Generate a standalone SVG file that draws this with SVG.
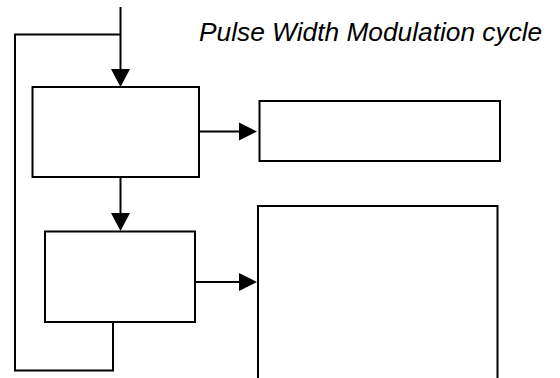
<svg xmlns="http://www.w3.org/2000/svg" width="560" height="378" viewBox="0 0 560 378">
<style>
.box{fill:#fff;stroke:#000;stroke-width:2}
.ln{fill:none;stroke:#000;stroke-width:2}
.ah{fill:#000;stroke:none}
.t{font-family:"Liberation Sans",Arial,sans-serif;font-style:italic;font-size:26.3px;fill:#000}
</style>
<rect width="560" height="378" fill="#fff"/>
<text class="t" x="199" y="41">Pulse Width Modulation cycle</text>
<g id="connectors">
<path class="ln" d="M120.5,7 V72"/>
<path class="ln" d="M120.5,34.5 H15 V370.5 H113 V322"/>
<polygon class="ah" points="111,69 130,69 120.5,87"/>
<path class="ln" d="M120.5,177 V215"/>
<polygon class="ah" points="111,213 130,213 120.5,231"/>
<path class="ln" d="M199,131.5 H242"/>
<polygon class="ah" points="239,122.5 239,140.5 257,131.5"/>
<path class="ln" d="M195,282 H242"/>
<polygon class="ah" points="239,273 239,291 257,282"/>
</g>
<g id="node1"><rect class="box" x="32.5" y="87" width="166.5" height="90"/></g>
<g id="node2"><rect class="box" x="45" y="231.5" width="150" height="90.5"/></g>
<g id="node3"><rect class="box" x="259.5" y="101" width="240.5" height="60"/></g>
<g id="node4"><rect class="box" x="258" y="206" width="239.5" height="190"/></g>
</svg>
